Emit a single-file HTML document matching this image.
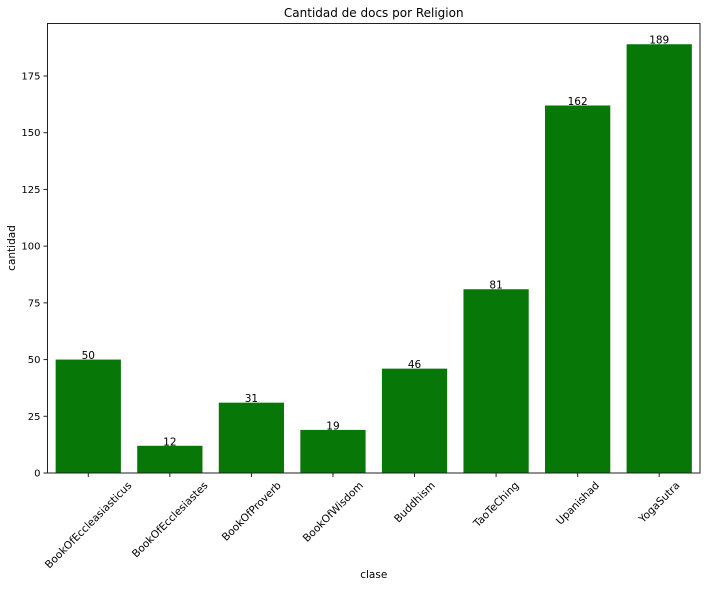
<!DOCTYPE html>
<html><head><meta charset="utf-8"><style>
body{margin:0;background:#fff;}
svg text{font-family:"DejaVu Sans","Liberation Sans",sans-serif;fill:#000;}
</style></head><body>
<svg id="chart" width="707" height="587" xmlns="http://www.w3.org/2000/svg">
<text x="373.75" y="17" font-size="12" text-anchor="middle">Cantidad de docs por Religion</text>
<g id="bars"></g>
<g id="yticks"></g>
<g id="xticks"></g>
<rect x="47.5" y="23.5" width="652.5" height="449.5" fill="none" stroke="#222" stroke-width="1"/>
<text x="0" y="0" font-size="10.5" text-anchor="middle" transform="translate(15,248) rotate(-90)">cantidad</text>
<text x="373.75" y="578" font-size="10.5" text-anchor="middle">clase</text>
</svg>
<script>
const categories=["BookOfEccleasiasticus","BookOfEcclesiastes","BookOfProverb","BookOfWisdom","Buddhism","TaoTeChing","Upanishad","YogaSutra"];
const values=[50,12,31,19,46,81,162,189];
const yTicks=[0,25,50,75,100,125,150,175];
const NS="http://www.w3.org/2000/svg";
const L=47.5,R=700,B=473,T=23.5;
const yMax=175/((B-76)/(B-T));
function y(v){return B-(v/yMax)*(B-T);}
const band=(R-L)/categories.length;
function xc(i){return L+band*(i+0.5);}
const bars=document.getElementById('bars'),yt=document.getElementById('yticks'),xt=document.getElementById('xticks');
function mk(t,a){const e=document.createElementNS(NS,t);for(const k in a)e.setAttribute(k,a[k]);return e;}
values.forEach((v,i)=>{
 const w=band*0.8;
 const r=mk('rect',{x:xc(i)-w/2,y:y(v),width:w,height:B-y(v),fill:'#077707'});
 
 
 bars.appendChild(r);
 const t=mk('text',{x:xc(i),y:y(v)-0.5,'font-size':'10.5','text-anchor':'middle'});
 
 
 t.textContent=v;bars.appendChild(t);
 const tk=mk('line',{x1:xc(i),x2:xc(i),y1:B,y2:B+4,stroke:'#222'});
 
 
 xt.appendChild(tk);
 const lb=mk('text',{x:0,y:0,'font-size':'10.5','text-anchor':'middle'});
 
 
 lb.textContent=categories[i];xt.appendChild(lb);
 const len=lb.getComputedTextLength();
 const h=len*0.7071+10*0.7071;
 lb.setAttribute('transform','translate('+xc(i)+','+(480+h/2)+') rotate(-45) translate(0,3.5)');
});
yTicks.forEach(v=>{
 const tk=mk('line',{x1:L-4,x2:L,y1:y(v),y2:y(v),stroke:'#222'});
 
 
 yt.appendChild(tk);
 const t=mk('text',{x:L-7,y:y(v)+3.5,'font-size':'10','text-anchor':'end'});
 
 
 t.textContent=v;yt.appendChild(t);
});
</script>
</body></html>
